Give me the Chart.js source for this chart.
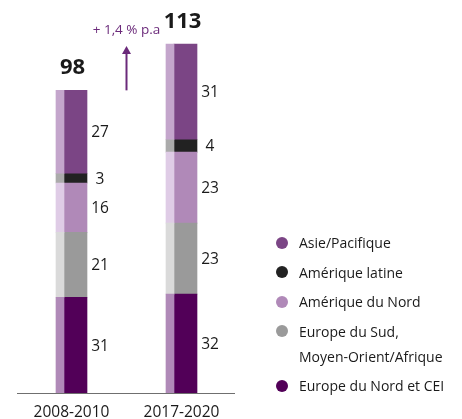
<!DOCTYPE html>
<html lang="fr">
<head>
<meta charset="utf-8">
<title>Chiffre d'affaires par région</title>
<script src="https://cdn.jsdelivr.net/npm/chart.js@4.4.1/dist/chart.umd.min.js"></script>
<style>
  html, body { margin: 0; padding: 0; background: #fff; }
  #wrap { position: relative; width: 462px; height: 419px; overflow: hidden; font-family: "Open Sans", sans-serif; }
  #chart { position: absolute; left: 0; top: 0; }
  #legend { position: absolute; left: 276px; top: 230px; display: flex; flex-direction: column; gap: 4.5px; }
  .item { display: flex; align-items: flex-start; font-size: 14px; line-height: 25px; color: #1a1a1a; white-space: nowrap; }
  .dot { width: 12px; height: 12px; border-radius: 50%; margin-top: 6.5px; margin-right: 11px; flex: none; }
</style>
</head>
<body>
<div id="wrap">
  <canvas id="chart" width="462" height="419"></canvas>
  <div id="legend"></div>
</div>
<script>
// Periods on the x axis
const periods = ['2008-2010', '2017-2020'];

// Values per region (bottom of the stack first)
const europeNord = [31, 32];
const europeSud = [21, 23];
const ameriqueNord = [16, 23];
const ameriqueLatine = [3, 4];
const asiePacifique = [27, 31];

// Totals shown above each column
const totals = [98, 113];
const growthLabel = '+ 1,4 % p.a';

// Region names, in legend order (top of the stack first)
const regionNames = [
  'Asie/Pacifique',
  'Amérique latine',
  'Amérique du Nord',
  ['Europe du Sud,', 'Moyen-Orient/Afrique'],
  'Europe du Nord et CEI'
];

// Solid colour and light edge colour for each region
const palette = {
  asie:      { main: '#7b4585', edge: '#c4a6cc' },
  latine:    { main: '#222222', edge: '#ababab' },
  nord:      { main: '#b089b8', edge: '#dfcce6' },
  sud:       { main: '#9a9a9a', edge: '#dadada' },
  europeN:   { main: '#520058', edge: '#b08ab8' }
};

const stackOrder = [
  { values: europeNord, color: palette.europeN, name: regionNames[4] },
  { values: europeSud, color: palette.sud, name: regionNames[3] },
  { values: ameriqueNord, color: palette.nord, name: regionNames[2] },
  { values: ameriqueLatine, color: palette.latine, name: regionNames[1] },
  { values: asiePacifique, color: palette.asie, name: regionNames[0] }
];

const edgeSets = stackOrder.map(s => ({
  label: 'edge',
  data: s.values,
  backgroundColor: s.color.edge,
  stack: 'edge',
  barThickness: 8,
  borderWidth: 0
}));
const mainSets = stackOrder.map(s => ({
  label: Array.isArray(s.name) ? s.name.join(' ') : s.name,
  data: s.values,
  backgroundColor: s.color.main,
  stack: 'main',
  barThickness: 23,
  borderWidth: 0,
  isMain: true
}));

const annotations = {
  id: 'annotations',
  afterDatasetsDraw(chart) {
    const { ctx, chartArea, scales } = chart;
    const y0 = scales.y.getPixelForValue(0);

    // baseline
    ctx.save();
    ctx.strokeStyle = '#6f6f6f';
    ctx.lineWidth = 1;
    ctx.beginPath();
    ctx.moveTo(chartArea.left + 8, Math.round(y0) + 0.5);
    ctx.lineTo(chartArea.right + 6, Math.round(y0) + 0.5);
    ctx.stroke();

    // segment values to the right of each column
    ctx.fillStyle = '#1a1a1a';
    ctx.font = '15.5px "Open Sans"';
    ctx.textAlign = 'center';
    ctx.textBaseline = 'middle';
    chart.data.datasets.forEach((ds, i) => {
      if (!ds.isMain) return;
      const meta = chart.getDatasetMeta(i);
      meta.data.forEach((bar, j) => {
        const right = bar.x + bar.width / 2;
        ctx.fillText(String(ds.data[j]), right + 13, (bar.y + bar.base) / 2 + 1);
      });
    });

    // totals above each column
    const edgeTop = chart.getDatasetMeta(edgeSets.length - 1);
    const mainTop = chart.getDatasetMeta(chart.data.datasets.length - 1);
    ctx.font = 'bold 22px "Open Sans"';
    ctx.textBaseline = 'alphabetic';
    const tops = [];
    totals.forEach((t, j) => {
      const e = edgeTop.data[j], m = mainTop.data[j];
      const cx = ((e.x - e.width / 2) + (m.x + m.width / 2)) / 2;
      const top = scales.y.getPixelForValue(t);
      tops.push(top);
      ctx.fillText(String(t), cx + 1, top - 16);
    });

    // growth arrow between the two columns
    const ax = Math.round((chartArea.left + 8 + chartArea.right + 6) / 2) + 0.5;
    const tip = tops[1] + 2;
    ctx.strokeStyle = '#6b2a7a';
    ctx.fillStyle = '#6b2a7a';
    ctx.lineWidth = 2;
    ctx.beginPath();
    ctx.moveTo(ax, tops[0]);
    ctx.lineTo(ax, tip + 6);
    ctx.stroke();
    ctx.beginPath();
    ctx.moveTo(ax, tip);
    ctx.lineTo(ax - 4.5, tip + 8);
    ctx.lineTo(ax + 4.5, tip + 8);
    ctx.closePath();
    ctx.fill();

    ctx.font = '13.5px "Open Sans"';
    ctx.textAlign = 'center';
    ctx.fillText(growthLabel, ax, tip - 12);
    ctx.restore();
  }
};

new Chart(document.getElementById('chart'), {
  type: 'bar',
  data: { labels: periods, datasets: [...edgeSets, ...mainSets] },
  options: {
    responsive: false,
    animation: false,
    devicePixelRatio: 1,
    layout: { padding: { left: 9, right: 233, top: 22.4, bottom: 0 } },
    plugins: { legend: { display: false }, tooltip: { enabled: false } },
    scales: {
      x: {
        stacked: true,
        offset: true,
        grid: { display: false, drawTicks: false, tickLength: 0 },
        border: { display: false },
        ticks: {
          color: '#1a1a1a',
          font: { family: 'Open Sans', size: 15.5 },
          padding: 10,
          labelOffset: 7.5
        },
        afterFit(scale) { scale.height = 26; }
      },
      y: { stacked: true, display: false, min: 0, max: 120 }
    }
  },
  plugins: [annotations]
});

// legend
const legend = document.getElementById('legend');
regionNames.forEach((name, i) => {
  const region = stackOrder[stackOrder.length - 1 - i];
  const item = document.createElement('div');
  item.className = 'item';
  const dot = document.createElement('span');
  dot.className = 'dot';
  dot.style.background = region.color.main;
  const text = document.createElement('span');
  text.innerHTML = (Array.isArray(name) ? name : [name]).join('<br>');
  item.appendChild(dot);
  item.appendChild(text);
  legend.appendChild(item);
});
</script>
</body>
</html>
